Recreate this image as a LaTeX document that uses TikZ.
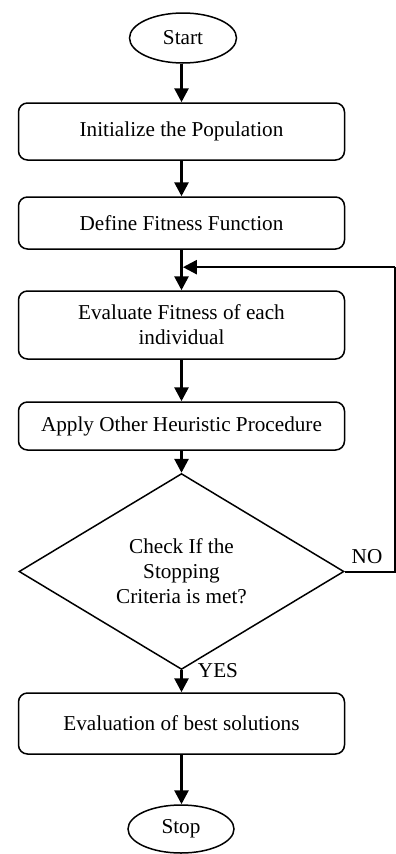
\documentclass[tikz,border=0pt]{standalone}
\usepackage{fontspec}
\setmainfont{Liberation Serif}
\usetikzlibrary{shapes.geometric,arrows.meta,calc}
\tikzset{
  base/.style={font=\fontsize{21.2}{25}\selectfont, inner sep=0pt},
  proc/.style={base, draw, line width=1.5pt, rounded corners=9pt,
               minimum width=326pt, align=center},
  term/.style={base, draw, ellipse, line width=1.5pt},
  dec/.style={base, draw, diamond, line width=1.5pt, minimum width=325pt,
              minimum height=163pt, align=center},
  arr/.style={line width=2.8pt, -{Triangle[width=14pt,length=14pt]}},
  lbl/.style={base}
}
\begin{document}
\begin{tikzpicture}[x=1pt,y=-1pt]
\useasboundingbox (0,0) rectangle (396,854);

% flowchart steps
\node[term, minimum width=107pt, minimum height=50pt] (start) at (183,38) {Start};
\node[proc, minimum height=57pt] (init) at (181.5,131.5) {Initialize the Population};
\node[proc, minimum height=52pt] (fit) at (181.5,223) {Define Fitness Function};
\node[proc, minimum height=68pt] (eval) at (181.5,325) {Evaluate Fitness of each\\individual};
\node[proc, minimum height=48pt] (apply) at (181.5,426) {Apply Other Heuristic Procedure};
\node[dec] (check) at (181.5,571.5) {Check If the\\Stopping\\Criteria is met?};
\node[proc, minimum height=61pt] (best) at (181.5,723.5) {Evaluation of best solutions};
\node[term, minimum width=106pt, minimum height=48pt] (stop) at (181,829) {Stop};

% branch labels
\node[lbl] (no) at (367,557) {NO};
\node[lbl] (yes) at (218,671) {YES};

% main flow
\draw[arr] (init.north |- start.south) -- (init.north);
\draw[arr] (init.south) -- (fit.north);
\draw[arr] (fit.south) -- (eval.north);
\draw[arr] (eval.south) -- (apply.north);
\draw[arr] (apply.south) -- (check.north);
\draw[arr] (check.south) -- (best.north);
\draw[arr] (best.south) -- (stop.north -| best.south);

% loop back when the criteria are not met
\coordinate (fbr) at (394.5,573);
\coordinate (join) at ($(fit.south)!0.43!(eval.north)$);
\draw[line width=2pt] (check.east) -- (check.east -| fbr) -- (fbr |- join);
\draw[arr, line width=2.4pt, shorten >=1.4pt] (fbr |- join) -- (join);
\end{tikzpicture}
\end{document}
